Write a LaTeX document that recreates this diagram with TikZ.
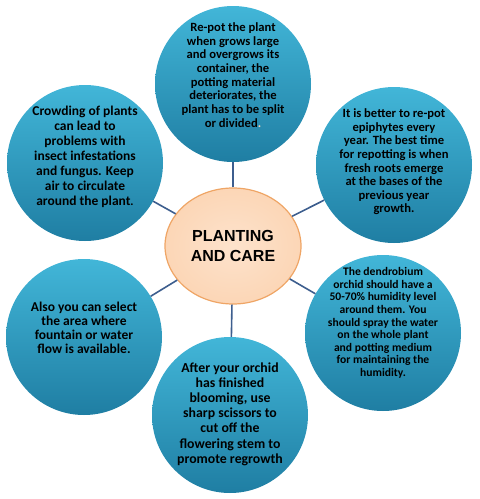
\documentclass[tikz,border=0pt]{standalone}
\usepackage{fontspec}
\setmainfont{Carlito}
\newfontfamily\headfont{Liberation Sans}
\usetikzlibrary{shapes.geometric}
\definecolor{bubbletop}{HTML}{42B6D8}
\definecolor{bubblebot}{HTML}{1F7EA3}
\definecolor{hubfill}{HTML}{FCD6B6}
\definecolor{hubedge}{HTML}{EFA565}
\definecolor{linkblue}{HTML}{3D5E8E}
\tikzset{
  bubble/.style={circle, minimum size=156pt, inner sep=0pt, top color=bubbletop, bottom color=bubblebot},
  bubbletext/.style 2 args={align=center, font=\bfseries\fontsize{#1}{#2}\selectfont, text=black},
  hub/.style={ellipse, draw=hubedge, line width=1.2pt, inner color=hubfill!70!white, outer color=hubfill, minimum width=136pt, minimum height=116pt, align=center, font=\headfont\bfseries\fontsize{16}{20}\selectfont},
  link/.style={draw=linkblue, line width=1.6pt}
}

\begin{document}
\begin{tikzpicture}[x=1pt, y=-1pt]
  \useasboundingbox (0,0) rectangle (480,499);
  \node[bubble] (repot) at (233,84) {};
  \node[bubble] (crowd) at (85,163) {};
  \node[bubble] (epiph) at (394,165) {};
  \node[bubble] (area) at (84,337) {};
  \node[bubble] (humid) at (383,333) {};
  \node[bubble] (bloom) at (230,415) {};
  \node[hub] (care) at (233,246) {PLANTING\\AND CARE};
  \draw[link] (care) -- (repot);
  \draw[link] (care) -- (crowd);
  \draw[link] (care) -- (epiph);
  \draw[link] (care) -- (area);
  \draw[link] (care) -- (humid);
  \draw[link] (care) -- (bloom);
  \node[bubbletext={12.6}{13.7}] (repottext) at ([yshift=9]repot.center) {Re-pot the plant\\when grows large\\and overgrows its\\container, the\\potting material\\deteriorates, the\\plant has to be split\\or divided\textcolor{hubfill}{.}};
  \node[bubbletext={13.5}{15}] (crowdtext) at ([yshift=6]crowd.center) {Crowding of plants\\can lead to\\problems with\\insect infestations\\and fungus. Keep\\air to circulate\\around the plant{\large.}};
  \node[bubbletext={12.6}{13.6}] (epiphtext) at ([yshift=3]epiph.center) {It is better to re-pot\\epiphytes every\\year. The best time\\for repotting is when\\fresh roots emerge\\at the bases of the\\previous year\\growth.};
  \node[bubbletext={13.5}{14.2}] (areatext) at ([yshift=9]area.center) {Also you can select\\the area where\\fountain or water\\flow is available.};
  \node[bubbletext={11.6}{12.6}] (humidtext) at ([yshift=10]humid.center) {The dendrobium\\orchid should have a\\50-70\% humidity level\\around them. You\\should spray the water\\on the whole plant\\and potting medium\\for maintaining the\\humidity.};
  \node[bubbletext={13.8}{15.2}] (bloomtext) at ([yshift=1]bloom.center) {After your orchid\\has finished\\blooming, use\\sharp scissors to\\cut off the\\flowering stem to\\promote regrowth};
\end{tikzpicture}
\end{document}
